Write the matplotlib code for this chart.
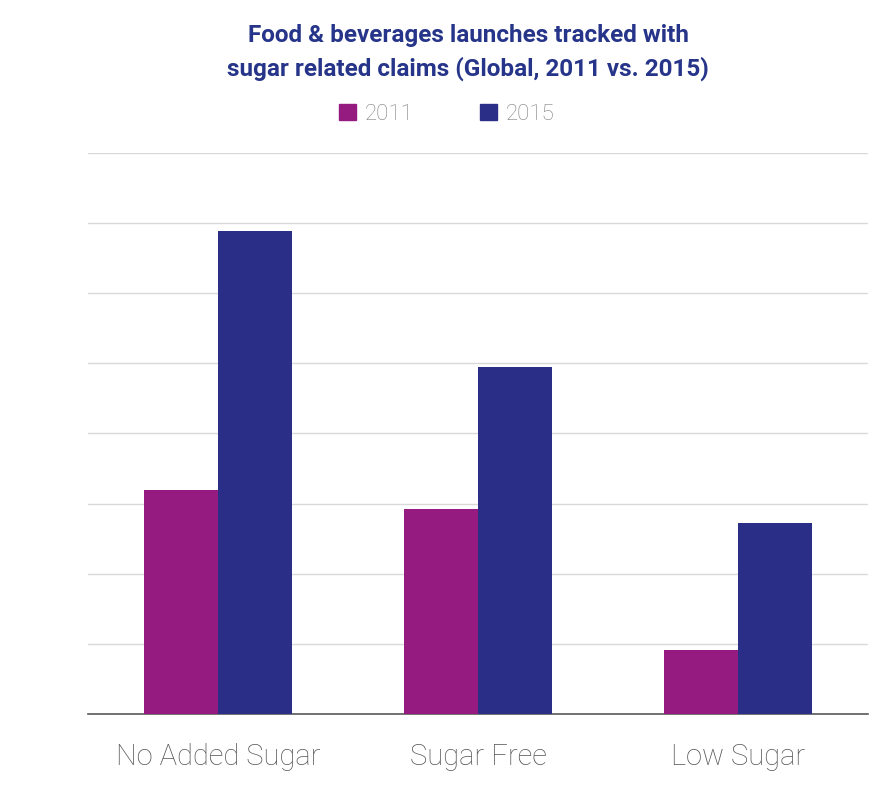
import numpy as np
import matplotlib
matplotlib.use("Agg")
import matplotlib.pyplot as plt
from matplotlib.patches import Patch

# data (in gridline units, axis has no labels)
categories = ["No Added Sugar", "Sugar Free", "Low Sugar"]
years = ["2011", "2015"]
values_2011 = [3.19, 2.92, 0.91]
values_2015 = [6.89, 4.95, 2.72]

col_2011 = "#951b81"
col_2015 = "#2a2e86"
title_col = "#263589"
light_font = ["Roboto", "DejaVu Sans"]

fig = plt.figure(figsize=(8.85, 7.94), dpi=100)
ax = fig.add_axes([88 / 885, 80 / 794, 780 / 885, 561 / 794])

x = np.arange(len(categories))
w = 0.285
ax.bar(x - w / 2, values_2011, w, color=col_2011, zorder=3)
ax.bar(x + w / 2, values_2015, w, color=col_2015, zorder=3)

ax.set_xlim(-0.5, 2.5)
ax.set_ylim(0, 8)
ax.set_yticks(np.arange(0, 9, 1))
ax.yaxis.grid(True, color="#d9d9d9", linewidth=1, zorder=0)
ax.tick_params(axis="y", length=0, labelleft=False)
ax.tick_params(axis="x", length=0, pad=21)
ax.set_xticks(x)
ax.set_xticklabels(categories, fontsize=21, color="#595959",
                   family=light_font, fontweight="light")
for s in ["top", "right", "left"]:
    ax.spines[s].set_visible(False)
ax.spines["bottom"].set_color("#595959")
ax.spines["bottom"].set_linewidth(1.2)

fig.text(0.529, 0.934, "Food & beverages launches tracked with\nsugar related claims (Global, 2011 vs. 2015)",
         ha="center", va="center", fontsize=17.5, fontweight="bold", color=title_col,
         family=["Roboto", "DejaVu Sans"], linespacing=1.5)

handles = [Patch(color=col_2011), Patch(color=col_2015)]
leg = fig.legend(handles, years, loc="center", bbox_to_anchor=(0.505, 0.856), ncol=2,
                 frameon=False, handlelength=0.75, handleheight=0.75, columnspacing=3.0,
                 handletextpad=0.4,
                 prop={"family": light_font, "weight": "light", "size": 16})
for t in leg.get_texts():
    t.set_color("#7f7f7f")

fig.savefig("out.png", dpi=100)
